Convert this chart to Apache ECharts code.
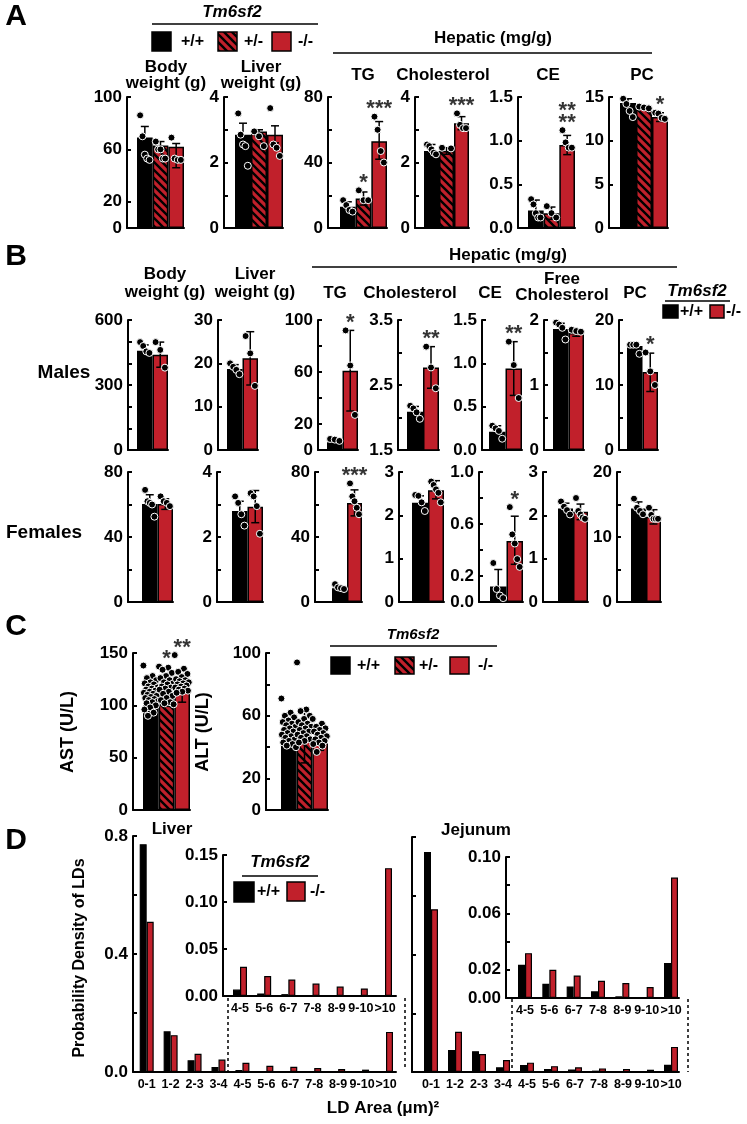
<!DOCTYPE html>
<html><head><meta charset="utf-8">
<script src="https://cdn.jsdelivr.net/npm/echarts@6/dist/echarts.min.js"></script>
<style>html,body{margin:0;padding:0;background:#fff}#c{width:747px;height:1124px}</style>
</head><body><div id="c"></div>
<script>
const RED = '#c1202b';
const FONT = '"Liberation Sans", Arial, Helvetica, sans-serif';

// ---------- Panel A (3 genotypes: +/+, +/-, -/-) ----------
const aBodyMean = [69, 63, 62], aBodyHi = [77.5, 66, 64.5], aBodyLo = [60.5, 60, 46];
const aBodyPts = [[86, 70, 56, 53, 52], [66, 60, 60, 53, 53], [69, 53, 52, 52]];
const aLiverMean = [2.85, 2.95, 2.85], aLiverHi = [3.2, 3.0, 3.12], aLiverLo = [2.5, 2.85, 2.6];
const aLiverPts = [[3.5, 2.85, 2.55, 2.5, 1.9], [2.95, 2.8, 2.5], [3.66, 2.55, 2.45, 2.2]];
const aTGMean = [13, 18, 53], aTGHi = [16, 22, 65], aTGLo = [10, 14, 42];
const aTGPts = [[17, 14, 11, 10], [23, 17, 17], [68, 60, 47, 40]];
const aTGStars = ['', '*', '***'];
const aCholMean = [2.35, 2.35, 3.2], aCholHi = [2.55, 2.45, 3.4], aCholLo = [2.15, 2.25, 3.0];
const aCholPts = [[2.55, 2.5, 2.4, 2.3, 2.25], [2.45, 2.43], [3.5, 3.15, 3.05, 3.05]];
const aCholStars = ['', '', '***'];
const aCEMean = [0.2, 0.17, 0.95], aCEHi = [0.32, 0.24, 1.06], aCELo = [0.08, 0.1, 0.84];
const aCEPts = [[0.33, 0.27, 0.17, 0.12, 0.12], [0.25, 0.17, 0.12], [1.12, 0.98, 0.92, 0.92]];
const aCEStars = ['', '', '**\n**'];
const aPCMean = [14.3, 13.8, 12.7], aPCHi = [14.8, 14.0, 13.2], aPCLo = [13.8, 13.6, 12.2];
const aPCPts = [[14.8, 14.2, 13.4, 12.7], [13.9, 13.8, 13.7], [13.2, 13.1, 12.6, 12.5]];
const aPCStars = ['', '', '*'];

// ---------- Panel B males (+/+, -/-) ----------
const mBodyMean = [458, 440], mBodyHi = [485, 498], mBodyLo = [431, 382];
const mBodyPts = [[498, 480, 455, 448], [498, 462, 380]];
const mLiverMean = [18.7, 21.2], mLiverHi = [19.7, 27.3], mLiverLo = [17.7, 15];
const mLiverPts = [[20, 19.2, 18.5, 17.5], [26.3, 22.3, 14.8]];
const mTGMean = [6, 61], mTGHi = [8, 92], mTGLo = [4, 30];
const mTGPts = [[8.5, 8, 7], [92, 65, 27]];
const mTGStars = ['', '*'];
const mCholMean = [2.09, 2.77], mCholHi = [2.17, 3.09], mCholLo = [2.0, 2.45];
const mCholPts = [[2.18, 2.14, 2.08, 1.98], [3.09, 2.77, 2.45]];
const mCholStars = ['', '**'];
const mCEMean = [0.21, 0.94], mCEHi = [0.28, 1.25], mCELo = [0.14, 0.63];
const mCEPts = [[0.28, 0.25, 0.22, 0.13], [1.25, 0.98, 0.6]];
const mCEStars = ['', '**'];
const mFreeMean = [1.86, 1.8], mFreeHi = [1.95, 1.85], mFreeLo = [1.77, 1.75];
const mFreePts = [[1.96, 1.93, 1.88, 1.7], [1.85, 1.83, 1.82]];
const mPCMean = [16, 12], mPCHi = [16.3, 14.9], mPCLo = [15.7, 9];
const mPCPts = [[16.2, 16.2, 16.2, 14.8], [15, 12.1, 10]];
const mPCStars = ['', '*'];

// ---------- Panel B females ----------
const fBodyMean = [60.3, 60.3], fBodyHi = [66, 63.5], fBodyLo = [55, 57];
const fBodyPts = [[69, 62, 61, 60, 52.5], [65, 62, 61, 59]];
const fLiverMean = [2.8, 2.93], fLiverHi = [3.1, 3.43], fLiverLo = [2.5, 2.44];
const fLiverPts = [[3.25, 3.05, 2.7, 2.35], [3.35, 3.25, 2.95, 2.1]];
const fTGMean = [8.4, 61], fTGHi = [9.5, 69], fTGLo = [7.3, 53];
const fTGPts = [[11, 9, 8.5, 8], [73, 65, 62, 58, 54]];
const fTGStars = ['', '***'];
const fCholMean = [2.29, 2.58], fCholHi = [2.45, 2.8], fCholLo = [2.13, 2.38];
const fCholPts = [[2.47, 2.45, 2.3, 2.1], [2.78, 2.7, 2.6, 2.52, 2.3]];
const fCEMean = [0.12, 0.47], fCEHi = [0.25, 0.66], fCELo = [0, 0.29];
const fCEPts = [[0.3, 0.1, 0.05, 0.03], [0.73, 0.52, 0.45, 0.33, 0.27]];
const fCEStars = ['', '*'];
const fFreeMean = [2.16, 2.08], fFreeHi = [2.28, 2.26], fFreeLo = [2.04, 1.9];
const fFreePts = [[2.32, 2.2, 2.12, 2.02], [2.4, 2.1, 2.02, 1.95, 1.92]];
const fPCMean = [14.4, 13.1], fPCHi = [15.4, 14.2], fPCLo = [13.4, 12];
const fPCPts = [[15.9, 14.5, 14.0, 13.5], [14.5, 13.4, 12.8, 12.8, 12.8]];

// ---------- Panel C ----------
const cASTMean = [108, 112, 115], cASTHi = [121, 125, 127], cASTLo = [95, 99, 103];
const cASTPts = [
  [138, 128, 126, 124, 122, 121, 120, 118, 117, 116, 115, 114, 113, 112, 111, 110, 109, 108, 107, 106, 105, 104, 103, 102, 100, 98, 96, 93, 90],
  [137, 136, 134, 131, 128, 126, 124, 122, 121, 120, 118, 117, 116, 115, 113, 111, 109, 107, 105, 103, 102, 101],
  [148, 135, 132, 130, 127, 125, 124, 123, 122, 121, 120, 119, 118, 117, 116, 115, 114, 113, 112]];
const cASTStars = ['', '*', '**'];
const cALTMean = [46, 47, 45], cALTHi = [54, 64, 52], cALTLo = [38, 30, 38];
const cALTPts = [
  [71, 62, 60, 59, 57, 56, 55, 54, 53, 52, 51, 50, 49, 48, 47, 46, 45, 44, 43, 42, 41, 40],
  [94, 64, 63, 60, 58, 56, 55, 54, 53, 52, 51, 50, 49, 48, 47, 46, 45, 44, 43],
  [58, 55, 53, 52, 51, 50, 49, 48, 47, 46, 45, 44, 43, 42, 41, 37]];

// ---------- Panel D ----------
const dCats = ['0-1', '1-2', '2-3', '3-4', '4-5', '5-6', '6-7', '7-8', '8-9', '9-10', '>10'];
const liverWT = [0.772, 0.138, 0.04, 0.017, 0.0068, 0.0026, 0.002, 0.0008, 0.0005, 0.0004, 0.0008];
const liverKO = [0.509, 0.125, 0.062, 0.042, 0.031, 0.0213, 0.0175, 0.0132, 0.010, 0.008, 0.136];
const jejWT = [0.749, 0.075, 0.071, 0.016, 0.0236, 0.0101, 0.0082, 0.0047, 0.0012, 0.0007, 0.0248];
const jejKO = [0.554, 0.137, 0.061, 0.041, 0.0318, 0.020, 0.016, 0.0122, 0.0106, 0.0078, 0.0854];

// ---------- helpers ----------
function rng(a, b, s) { const r = []; for (let v = a; v <= b + 1e-9; v += s) r.push(Math.round(v * 10000) / 10000); return r; }
function makeHatch() {
  const c = document.createElement('canvas'); c.width = 8; c.height = 8;
  const g = c.getContext('2d'); g.fillStyle = RED; g.fillRect(0, 0, 8, 8);
  g.strokeStyle = '#000'; g.lineWidth = 2.4; g.beginPath();
  g.moveTo(-2, -2); g.lineTo(10, 10); g.moveTo(-2, 6); g.lineTo(2, 10); g.moveTo(6, -2); g.lineTo(10, 2); g.stroke();
  return c;
}
const HATCH = { image: makeHatch(), repeat: 'repeat' };

const grids = [], xAxes = [], yAxes = [], series = [], G = [];

function yAxisDef(gi, p) {
  return {
    gridIndex: gi, type: 'value', min: p.min, max: p.max,
    axisLine: { show: true, onZero: false, lineStyle: { color: '#000', width: 2 } },
    axisTick: { show: true, inside: true, length: 4, lineStyle: { color: '#000', width: 2 }, customValues: p.ticks },
    axisLabel: { show: p.labels.length > 0, customValues: p.labels, formatter: v => Number(v).toFixed(p.dec || 0),
      showMinLabel: true, showMaxLabel: true,
      fontSize: 17, fontWeight: 'bold', color: '#000', fontFamily: FONT, margin: 5 },
    splitLine: { show: false }
  };
}
function errRender(params, api) {
  const x = api.value(0);
  const a = api.coord([x, api.value(1)]), b = api.coord([x, api.value(2)]);
  const w = 4, st = { stroke: '#000', lineWidth: 1.5 };
  return { type: 'group', children: [
    { type: 'line', shape: { x1: a[0], y1: a[1], x2: b[0], y2: b[1] }, style: st },
    { type: 'line', shape: { x1: b[0] - w, y1: b[1], x2: b[0] + w, y2: b[1] }, style: st },
    { type: 'line', shape: { x1: a[0] - w, y1: a[1], x2: a[0] + w, y2: a[1] }, style: st }
  ] };
}
// horizontal spread of dots inside a bar (layout only)
function off(j, k) {
  if (k <= 6) return k === 1 ? 0 : -0.3 + 0.6 * j / (k - 1);
  return (((j * 0.618034) % 1) - 0.5) * 0.95;
}
function barPlot(p) {
  const n = p.mean.length, bw = (p.xEnd - p.barLeft) / n, gi = grids.length;
  grids.push({ left: p.axisX, top: p.top, width: p.xEnd - p.axisX, height: p.bottom - p.top });
  xAxes.push({ gridIndex: gi, type: 'value', min: -0.5 - (p.barLeft - p.axisX) / bw, max: n - 0.5,
    axisLine: { show: true, onZero: false, lineStyle: { color: '#000', width: 2 } },
    axisTick: { show: false }, axisLabel: { show: false }, splitLine: { show: false } });
  yAxes.push(yAxisDef(gi, p));
  const fills = n === 3 ? ['#000', HATCH, RED] : ['#000', RED];
  series.push({ type: 'bar', xAxisIndex: gi, yAxisIndex: gi, barWidth: bw, z: 2,
    itemStyle: { borderColor: '#000', borderWidth: 1.5 },
    data: p.mean.map((m, i) => ({ value: [i, m], itemStyle: { color: fills[i] } })) });
  series.push({ type: 'custom', xAxisIndex: gi, yAxisIndex: gi, z: 3, clip: false, renderItem: errRender,
    data: p.mean.map((m, i) => [i, p.lo[i], p.hi[i]]) });
  const pts = [];
  p.pts.forEach((arr, i) => arr.forEach((v, j) => pts.push([i + off(j, arr.length), v])));
  series.push({ type: 'scatter', xAxisIndex: gi, yAxisIndex: gi, z: 4, clip: false, symbolSize: 7,
    itemStyle: { color: '#000', borderColor: '#fff', borderWidth: 1, opacity: 1 }, data: pts });
  if (p.stars) {
    const sd = [];
    p.stars.forEach((s, i) => { if (s) sd.push([i, Math.max(p.hi[i], ...p.pts[i]), s]); });
    series.push({ type: 'scatter', xAxisIndex: gi, yAxisIndex: gi, z: 5, clip: false, symbolSize: 1,
      itemStyle: { color: 'rgba(0,0,0,0)' }, data: sd,
      label: { show: true, position: 'top', distance: 1, formatter: q => q.data[2], fontSize: 22,
        fontWeight: 'bold', color: '#000', fontFamily: FONT, lineHeight: 12 } });
  }
}
function histPlot(p) {
  const n = p.cats.length, band = (p.lastC - p.firstC) / (n - 1), gi = grids.length;
  grids.push({ left: p.axisX, top: p.top, width: p.xEnd - p.axisX, height: p.bottom - p.top });
  xAxes.push({ gridIndex: gi, type: 'value', min: -(p.firstC - p.axisX) / band, max: (n - 1) + (p.xEnd - p.lastC) / band,
    axisLine: { show: true, onZero: false, lineStyle: { color: '#000', width: 2 } },
    axisTick: { show: false }, splitLine: { show: false },
    axisLabel: { show: true, customValues: p.cats.map((c, i) => i), formatter: v => p.cats[Math.round(v)] || '',
      showMinLabel: true, showMaxLabel: true,
      fontSize: 12.5, fontWeight: 'bold', color: '#000', fontFamily: FONT, margin: 6, hideOverlap: false } });
  yAxes.push(yAxisDef(gi, p));
  series.push({ type: 'bar', xAxisIndex: gi, yAxisIndex: gi, barWidth: 7, barGap: '0%', z: 2,
    itemStyle: { color: '#000', borderColor: '#000', borderWidth: 1.2 }, data: p.wt.map((v, i) => [i, v]) });
  series.push({ type: 'bar', xAxisIndex: gi, yAxisIndex: gi, barWidth: 7, barGap: '0%', z: 2,
    itemStyle: { color: RED, borderColor: '#000', borderWidth: 1.2 }, data: p.ko.map((v, i) => [i, v]) });
}
function T(x, y, text, size, o) {
  G.push(Object.assign({ type: 'text', x, y, z: 10, style: Object.assign({ text, fontSize: size, fontWeight: 'bold',
    fontFamily: FONT, fill: '#000', textAlign: 'center', textVerticalAlign: 'middle', align: 'center', verticalAlign: 'middle' },
    (o && o.style) || {}) }, o && o.rotation ? { rotation: o.rotation } : {}));
}
function TL(x, y, text, size) { T(x, y, text, size, { style: { textAlign: 'left', align: 'left' } }); }
function TI(x, y, text, size) { T(x, y, text, size, { style: { fontStyle: 'italic' } }); }
function L(x1, y1, x2, y2, w, dash) {
  G.push({ type: 'line', z: 10, shape: { x1, y1, x2, y2 }, style: { stroke: '#000', lineWidth: w || 1.5, lineDash: dash || null } });
}
function R(x, y, w, h, fill) {
  G.push({ type: 'rect', z: 10, shape: { x, y, width: w, height: h }, style: { fill, stroke: '#000', lineWidth: 1.5 } });
}

// ---------- build panel A ----------
const AT = 97, AB = 228;
barPlot({ axisX: 127, barLeft: 137, xEnd: 184, top: AT, bottom: AB, min: 0, max: 100, ticks: [0, 20, 60, 100], labels: [0, 20, 60, 100], mean: aBodyMean, hi: aBodyHi, lo: aBodyLo, pts: aBodyPts });
barPlot({ axisX: 224, barLeft: 235, xEnd: 283, top: AT, bottom: AB, min: 0, max: 4, ticks: rng(0, 4, 1), labels: [0, 2, 4], mean: aLiverMean, hi: aLiverHi, lo: aLiverLo, pts: aLiverPts });
barPlot({ axisX: 328, barLeft: 340, xEnd: 387, top: AT, bottom: AB, min: 0, max: 80, ticks: rng(0, 80, 20), labels: [0, 40, 80], mean: aTGMean, hi: aTGHi, lo: aTGLo, pts: aTGPts, stars: aTGStars });
barPlot({ axisX: 415, barLeft: 424, xEnd: 469, top: AT, bottom: AB, min: 0, max: 4, ticks: rng(0, 4, 1), labels: [0, 2, 4], mean: aCholMean, hi: aCholHi, lo: aCholLo, pts: aCholPts, stars: aCholStars });
barPlot({ axisX: 518, barLeft: 528, xEnd: 575, top: AT, bottom: AB, min: 0, max: 1.5, ticks: rng(0, 1.5, 0.5), labels: rng(0, 1.5, 0.5), dec: 1, mean: aCEMean, hi: aCEHi, lo: aCELo, pts: aCEPts, stars: aCEStars });
barPlot({ axisX: 609, barLeft: 620, xEnd: 668, top: AT, bottom: AB, min: 0, max: 15, ticks: rng(0, 15, 5), labels: rng(0, 15, 5), mean: aPCMean, hi: aPCHi, lo: aPCLo, pts: aPCPts, stars: aPCStars });

// ---------- panel B ----------
const MT = 320, MB = 450, FT = 472, FB = 602;
barPlot({ axisX: 128, barLeft: 137, xEnd: 168, top: MT, bottom: MB, min: 0, max: 600, ticks: rng(0, 600, 100), labels: [0, 300, 600], mean: mBodyMean, hi: mBodyHi, lo: mBodyLo, pts: mBodyPts });
barPlot({ axisX: 218, barLeft: 227, xEnd: 258, top: MT, bottom: MB, min: 0, max: 30, ticks: rng(0, 30, 10), labels: rng(0, 30, 10), mean: mLiverMean, hi: mLiverHi, lo: mLiverLo, pts: mLiverPts });
barPlot({ axisX: 318, barLeft: 327, xEnd: 358, top: MT, bottom: MB, min: 0, max: 100, ticks: rng(0, 100, 20), labels: [0, 20, 60, 100], mean: mTGMean, hi: mTGHi, lo: mTGLo, pts: mTGPts, stars: mTGStars });
barPlot({ axisX: 398, barLeft: 407, xEnd: 439, top: MT, bottom: MB, min: 1.5, max: 3.5, ticks: rng(1.5, 3.5, 0.5), labels: [1.5, 2.5, 3.5], dec: 1, mean: mCholMean, hi: mCholHi, lo: mCholLo, pts: mCholPts, stars: mCholStars });
barPlot({ axisX: 482, barLeft: 489, xEnd: 522, top: MT, bottom: MB, min: 0, max: 1.5, ticks: rng(0, 1.5, 0.5), labels: rng(0, 1.5, 0.5), dec: 1, mean: mCEMean, hi: mCEHi, lo: mCELo, pts: mCEPts, stars: mCEStars });
barPlot({ axisX: 544, barLeft: 553, xEnd: 584, top: MT, bottom: MB, min: 0, max: 2, ticks: rng(0, 2, 0.5), labels: [0, 1, 2], mean: mFreeMean, hi: mFreeHi, lo: mFreeLo, pts: mFreePts });
barPlot({ axisX: 619, barLeft: 627, xEnd: 658, top: MT, bottom: MB, min: 0, max: 20, ticks: rng(0, 20, 5), labels: [0, 10, 20], mean: mPCMean, hi: mPCHi, lo: mPCLo, pts: mPCPts, stars: mPCStars });

barPlot({ axisX: 128, barLeft: 142, xEnd: 173, top: FT, bottom: FB, min: 0, max: 80, ticks: rng(0, 80, 20), labels: [0, 40, 80], mean: fBodyMean, hi: fBodyHi, lo: fBodyLo, pts: fBodyPts });
barPlot({ axisX: 217, barLeft: 232, xEnd: 263, top: FT, bottom: FB, min: 0, max: 4, ticks: rng(0, 4, 1), labels: [0, 2, 4], mean: fLiverMean, hi: fLiverHi, lo: fLiverLo, pts: fLiverPts });
barPlot({ axisX: 315, barLeft: 332, xEnd: 362, top: FT, bottom: FB, min: 0, max: 80, ticks: rng(0, 80, 20), labels: [0, 40, 80], mean: fTGMean, hi: fTGHi, lo: fTGLo, pts: fTGPts, stars: fTGStars });
barPlot({ axisX: 399, barLeft: 412, xEnd: 444, top: FT, bottom: FB, min: 0, max: 3, ticks: rng(0, 3, 1), labels: rng(0, 3, 1), mean: fCholMean, hi: fCholHi, lo: fCholLo, pts: fCholPts });
barPlot({ axisX: 479, barLeft: 490, xEnd: 523, top: FT, bottom: FB, min: 0, max: 1, ticks: rng(0, 1, 0.2), labels: [0, 0.2, 0.6, 1], dec: 1, mean: fCEMean, hi: fCEHi, lo: fCELo, pts: fCEPts, stars: fCEStars });
barPlot({ axisX: 543, barLeft: 558, xEnd: 588, top: FT, bottom: FB, min: 0, max: 3, ticks: rng(0, 3, 1), labels: rng(0, 3, 1), mean: fFreeMean, hi: fFreeHi, lo: fFreeLo, pts: fFreePts });
barPlot({ axisX: 617, barLeft: 631, xEnd: 661, top: FT, bottom: FB, min: 0, max: 20, ticks: rng(0, 20, 5), labels: [0, 10, 20], mean: fPCMean, hi: fPCHi, lo: fPCLo, pts: fPCPts });

// ---------- panel C ----------
barPlot({ axisX: 133, barLeft: 143, xEnd: 190, top: 653, bottom: 810, min: 0, max: 150, ticks: rng(0, 150, 50), labels: rng(0, 150, 50), mean: cASTMean, hi: cASTHi, lo: cASTLo, pts: cASTPts, stars: cASTStars });
barPlot({ axisX: 266, barLeft: 281, xEnd: 328, top: 653, bottom: 810, min: 0, max: 100, ticks: rng(0, 100, 20), labels: [0, 20, 60, 100], mean: cALTMean, hi: cALTHi, lo: cALTLo, pts: cALTPts });

// ---------- panel D ----------
const dInsetCats = dCats.slice(4);
histPlot({ axisX: 133, firstC: 146.7, lastC: 386, xEnd: 396, top: 836, bottom: 1072, min: 0, max: 0.8, ticks: rng(0, 0.8, 0.2), labels: [0, 0.4, 0.8], dec: 1, cats: dCats, wt: liverWT, ko: liverKO });
histPlot({ axisX: 223, firstC: 240, lastC: 385, xEnd: 396, top: 855, bottom: 996, min: 0, max: 0.15, ticks: rng(0, 0.15, 0.05), labels: rng(0, 0.15, 0.05), dec: 2, cats: dInsetCats, wt: liverWT.slice(4), ko: liverKO.slice(4) });
histPlot({ axisX: 412, firstC: 431, lastC: 671, xEnd: 679, top: 837, bottom: 1072, min: 0, max: 0.8, ticks: rng(0, 0.8, 0.2), labels: [], dec: 1, cats: dCats, wt: jejWT, ko: jejKO });
histPlot({ axisX: 506, firstC: 525, lastC: 671, xEnd: 679, top: 857, bottom: 998, min: 0, max: 0.1, ticks: rng(0, 0.1, 0.02), labels: [0, 0.02, 0.06, 0.1], dec: 2, cats: dInsetCats, wt: jejWT.slice(4), ko: jejKO.slice(4) });

// ---------- texts / decorations ----------
T(16, 17, 'A', 30);
TI(232, 12, 'Tm6sf2', 17); L(152, 24, 318, 24);
R(152, 32, 19, 19, '#000'); TL(181, 42, '+/+', 16);
R(218, 32, 19, 19, HATCH); TL(244, 42, '+/-', 16);
R(272, 32, 19, 19, RED); TL(298, 42, '-/-', 16);
T(493, 38, 'Hepatic (mg/g)', 17); L(333, 53, 652, 53);
T(166, 67, 'Body', 17); T(166, 83, 'weight (g)', 17);
T(261, 67, 'Liver', 17); T(261, 83, 'weight (g)', 17);
T(363, 75, 'TG', 17); T(443, 75, 'Cholesterol', 17); T(548, 75, 'CE', 17); T(642, 75, 'PC', 17);

T(16, 257, 'B', 30);
T(508, 255, 'Hepatic (mg/g)', 17); L(312, 267, 677, 267);
T(165, 274, 'Body', 17); T(165, 292, 'weight (g)', 17);
T(255, 274, 'Liver', 17); T(255, 292, 'weight (g)', 17);
T(335, 293, 'TG', 17); T(410, 293, 'Cholesterol', 17); T(490, 293, 'CE', 17);
T(562, 279, 'Free', 17); T(562, 295, 'Cholesterol', 17); T(635, 293, 'PC', 17);
TI(697, 291, 'Tm6sf2', 17); L(665, 301, 730, 301);
R(663, 305, 15, 13, '#000'); TL(680, 312, '+/+', 16);
R(710, 305, 14, 13, RED); TL(726, 312, '-/-', 16);
T(64, 373, 'Males', 19); T(44, 533, 'Females', 19);

T(16, 627, 'C', 30);
TI(413, 635, 'Tm6sf2', 15); L(330, 646, 497, 646);
R(331, 657, 19, 17, '#000'); TL(357, 666, '+/+', 16);
R(395, 657, 19, 17, HATCH); TL(419, 666, '+/-', 16);
R(450, 657, 19, 17, RED); TL(478, 666, '-/-', 16);
T(68, 732, 'AST (U/L)', 18, { rotation: Math.PI / 2 });
T(203, 732, 'ALT (U/L)', 18, { rotation: Math.PI / 2 });

T(16, 841, 'D', 30);
T(172, 829, 'Liver', 17); T(476, 830, 'Jejunum', 17);
T(80, 958, 'Probability Density of LDs', 16, { rotation: Math.PI / 2 });
T(383, 1108, 'LD Area (μm)²', 17);
TI(280, 862, 'Tm6sf2', 17); L(242, 876, 318, 876);
R(234, 882, 20, 20, '#000'); TL(257, 892, '+/+', 16);
R(287, 882, 18, 19, RED); TL(310, 892, '-/-', 16);
L(228, 998, 228, 1071, 1.5, [3, 3]); L(405, 998, 405, 1070, 1.5, [3, 3]);
L(512, 999, 512, 1072, 1.5, [3, 3]); L(688, 999, 688, 1072, 1.5, [3, 3]);

const chart = echarts.init(document.getElementById('c'), null, { renderer: 'canvas' });
chart.setOption({
  backgroundColor: '#fff', animation: false,
  textStyle: { fontFamily: FONT },
  grid: grids, xAxis: xAxes, yAxis: yAxes, series: series,
  graphic: { elements: G }
});
</script></body></html>
